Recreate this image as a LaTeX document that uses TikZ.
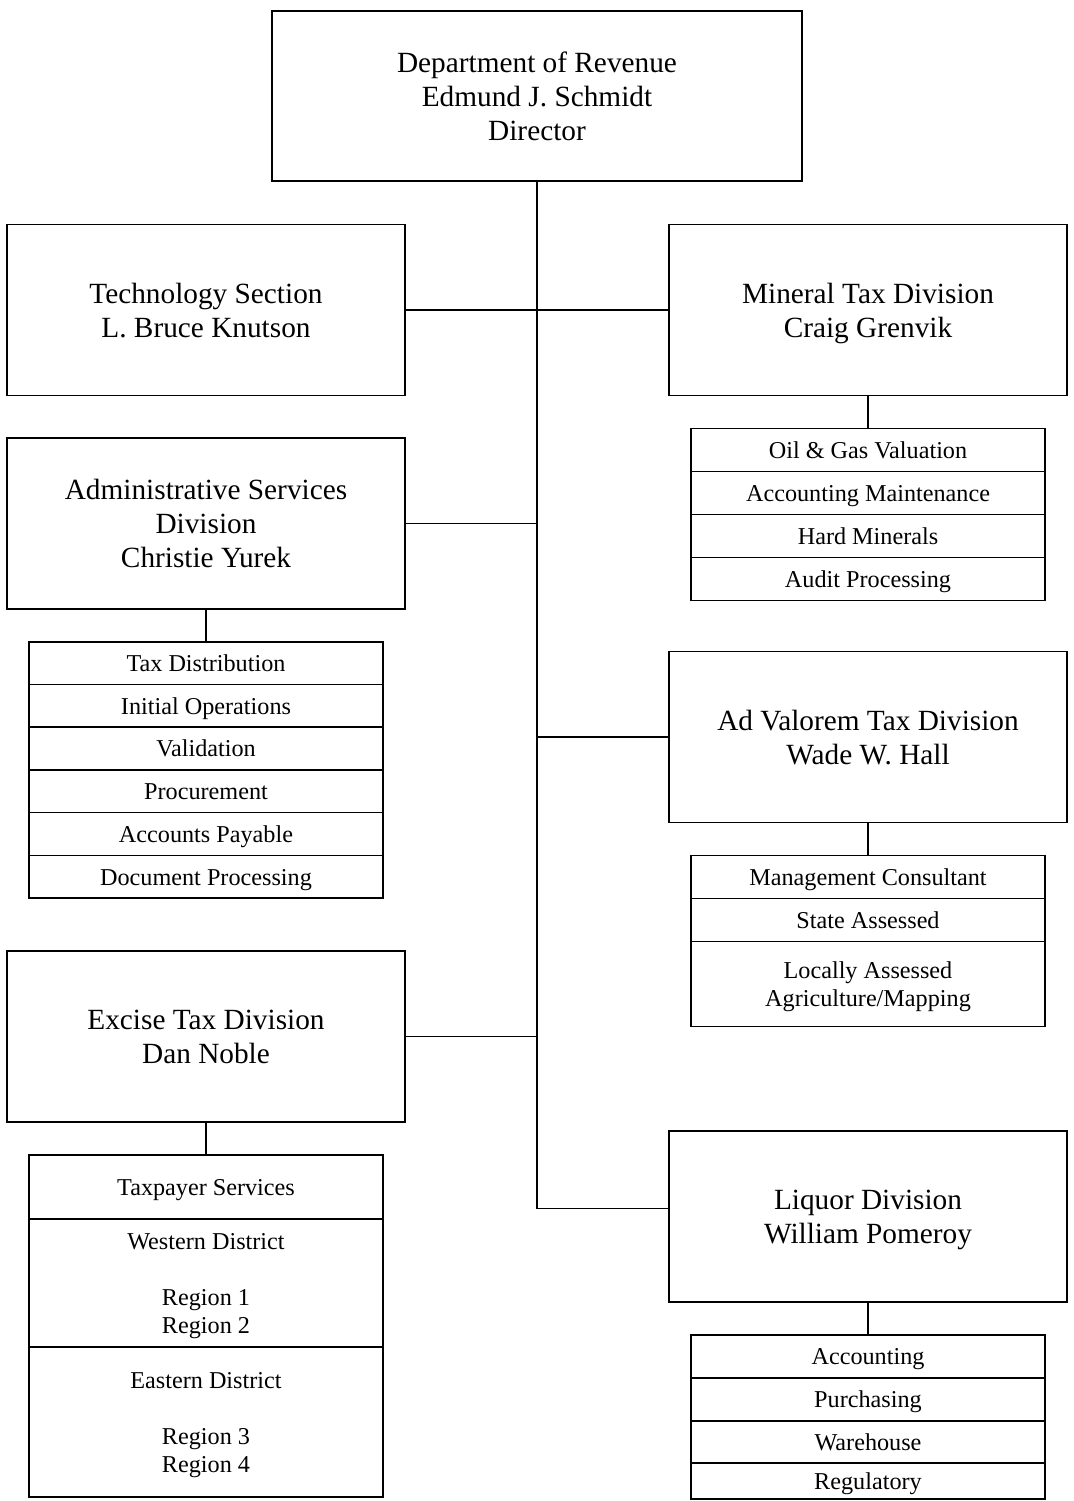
\documentclass[tikz,border=0pt]{standalone}
\usepackage{fontspec}
\setmainfont{Liberation Serif}
\usetikzlibrary{positioning}
\def\gap{32pt}
\def\rowh{43pt}
% even struts, so descenders do not move the lines
\newcommand{\topstrut}{\vrule height 0.91em depth 0pt width 0pt}
\newcommand{\botstrut}{\vrule height 0pt depth 0.22em width 0pt}
\tikzstyle{head}=[draw,align=center,minimum width=398pt,minimum height=171pt,
  font=\fontsize{29.3}{34}\selectfont]
\tikzstyle{unit}=[draw,align=center,minimum width=354pt,minimum height=\rowh,
  inner sep=0pt,outer sep=0pt,font=\fontsize{24.2}{28}\selectfont]
\newcommand{\newHead}[4]{\node[head,#3](#1) at #4 {\topstrut#2\botstrut};}
\newcommand{\newUnit}[4]{\node[unit,#3](#1)[#4]{\topstrut#2\botstrut};}
\newcommand{\newLink}[2]{\draw (#1) -- (#2);}

\begin{document}
\begin{tikzpicture}[x=1pt,y=-1pt,line width=1.6pt]
  \useasboundingbox (0,0) rectangle (1073,1501);
  % heads
  \newHead{dir}{Department of Revenue\\Edmund J. Schmidt\\Director}{minimum width=530pt,minimum height=170pt}{(537,96)}
  \newHead{tech}{Technology Section\\L. Bruce Knutson}{}{(206,310)}
  \newHead{mineral}{Mineral Tax Division\\Craig Grenvik}{}{(868,310)}
  \newHead{admin}{Administrative Services\\Division\\Christie Yurek}{}{(206,523.5)}
  \newHead{adval}{Ad Valorem Tax Division\\Wade W. Hall}{}{(868,737)}
  \newHead{excise}{Excise Tax Division\\Dan Noble}{}{(206,1036.5)}
  \newHead{liquor}{Liquor Division\\William Pomeroy}{}{(868,1216.5)}
  % mineral tax units
  \newUnit{m1}{Oil \& Gas Valuation}{}{below=\gap of mineral}
  \newUnit{m2}{Accounting Maintenance}{}{below=0pt of m1}
  \newUnit{m3}{Hard Minerals}{}{below=0pt of m2}
  \newUnit{m4}{Audit Processing}{}{below=0pt of m3}
  % administrative units
  \newUnit{a1}{Tax Distribution}{minimum height=42.7pt}{below=\gap of admin}
  \newUnit{a2}{Initial Operations}{minimum height=42.7pt}{below=0pt of a1}
  \newUnit{a3}{Validation}{minimum height=42.7pt}{below=0pt of a2}
  \newUnit{a4}{Procurement}{minimum height=42.7pt}{below=0pt of a3}
  \newUnit{a5}{Accounts Payable}{minimum height=42.7pt}{below=0pt of a4}
  \newUnit{a6}{Document Processing}{minimum height=42.7pt}{below=0pt of a5}
  % ad valorem units
  \newUnit{v1}{Management Consultant}{}{below=\gap of adval}
  \newUnit{v2}{State Assessed}{}{below=0pt of v1}
  \newUnit{v3}{Locally Assessed\\Agriculture/Mapping}{minimum height=85pt}{below=0pt of v2}
  % excise units
  \newUnit{e1}{Taxpayer Services}{minimum height=64pt}{below=\gap of excise}
  \newUnit{e2}{Western District\\[28pt]Region 1\\Region 2}{minimum height=128pt}{below=0pt of e1}
  \newUnit{e3}{Eastern District\\[28pt]Region 3\\Region 4}{minimum height=150pt}{below=0pt of e2}
  % liquor units
  \newUnit{l1}{Accounting}{}{below=\gap of liquor}
  \newUnit{l2}{Purchasing}{}{below=0pt of l1}
  \newUnit{l3}{Warehouse}{minimum height=42pt}{below=0pt of l2}
  \newUnit{l4}{Regulatory}{minimum height=36pt}{below=0pt of l3}
  % connectors
  \draw (dir.south) |- ([yshift=8pt]liquor.west);
  \newLink{tech.east}{mineral.west}
  \newLink{admin.east}{admin.east -| dir.south}
  \newLink{adval.west}{adval.west -| dir.south}
  \newLink{excise.east}{excise.east -| dir.south}
  \newLink{mineral.south}{m1.north}
  \newLink{admin.south}{a1.north}
  \newLink{adval.south}{v1.north}
  \newLink{excise.south}{e1.north}
  \newLink{liquor.south}{l1.north}
\end{tikzpicture}
\end{document}
